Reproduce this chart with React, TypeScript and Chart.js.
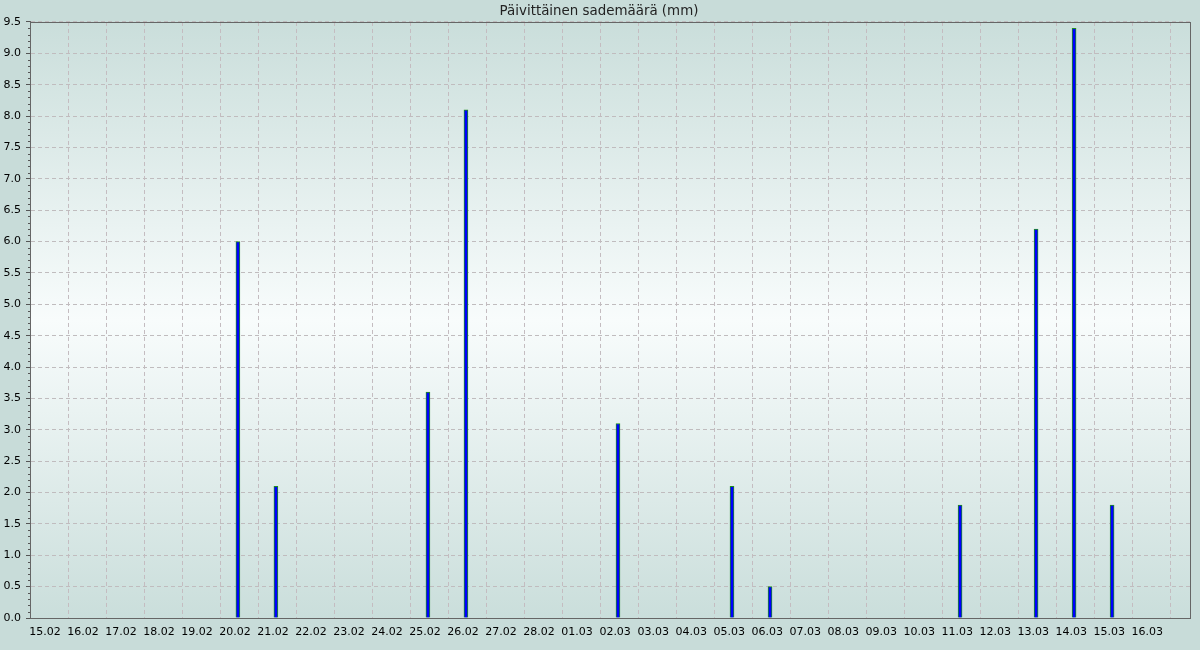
import React, { useEffect, useRef } from 'react';
import { Chart, registerables } from 'chart.js';

Chart.register(...registerables);

const TITLE = 'Päivittäinen sademäärä (mm)';

const dates = [
  '15.02', '16.02', '17.02', '18.02', '19.02', '20.02', '21.02', '22.02', '23.02', '24.02',
  '25.02', '26.02', '27.02', '28.02', '01.03', '02.03', '03.03', '04.03', '05.03', '06.03',
  '07.03', '08.03', '09.03', '10.03', '11.03', '12.03', '13.03', '14.03', '15.03', '16.03',
];

const rain = [
  0, 0, 0, 0, 0, 6.0, 2.1, 0, 0, 0,
  3.6, 8.1, 0, 0, 0, 3.1, 0, 0, 2.1, 0.5,
  0, 0, 0, 0, 1.8, 0, 6.2, 9.4, 1.8, 0,
];

const Y_MAX = 9.5;
const Y_MAJOR = 0.5;
const Y_MINOR = 0.1;
const X_MIN = -0.47;
const X_MAX = 30.05;

const decorPlugin = {
  id: 'decor',
  beforeDraw(chart: any) {
    const { ctx, chartArea: a, width, height } = chart;
    ctx.save();
    ctx.fillStyle = '#c8dcd9';
    ctx.fillRect(0, 0, width, height);
    const g = ctx.createLinearGradient(0, a.top, 0, a.bottom);
    g.addColorStop(0, '#cadedb');
    g.addColorStop(0.5, '#f8fcfc');
    g.addColorStop(1, '#cadedb');
    ctx.fillStyle = g;
    ctx.fillRect(a.left, a.top, a.right - a.left, a.bottom - a.top);
    ctx.restore();
  },
  afterDraw(chart: any) {
    const { ctx, chartArea: a } = chart;
    const y = chart.scales.y;
    ctx.save();
    ctx.strokeStyle = '#555555';
    ctx.lineWidth = 1;
    ctx.beginPath();
    const n = Math.round(Y_MAX / Y_MINOR);
    for (let i = 0; i <= n; i++) {
      if (i % Math.round(Y_MAJOR / Y_MINOR) === 0) continue;
      const py = Math.round(y.getPixelForValue(i * Y_MINOR)) + 0.5;
      ctx.moveTo(a.left - 2, py);
      ctx.lineTo(a.left, py);
    }
    ctx.stroke();
    ctx.strokeStyle = '#666666';
    ctx.strokeRect(Math.round(a.left) + 0.5, Math.round(a.top) + 0.5, Math.round(a.right - a.left), Math.round(a.bottom - a.top));
    ctx.restore();
  },
};

export default function App() {
  const ref = useRef<HTMLCanvasElement>(null);

  useEffect(() => {
    document.body.style.margin = '0';
    Chart.defaults.font.family = "'DejaVu Sans', sans-serif";
    const data = rain
      .map((v, i) => ({ x: i, y: v }))
      .filter((p) => p.y > 0);

    const chart = new Chart(ref.current as HTMLCanvasElement, {
      type: 'bar',
      data: {
        datasets: [
          {
            label: 'Sademäärä',
            data,
            backgroundColor: '#0000ff',
            borderColor: '#1f8f1f',
            borderWidth: 1,
            borderSkipped: 'start',
            barThickness: 4,
            grouped: false,
            xAxisID: 'x',
            yAxisID: 'y',
          } as any,
        ],
      },
      options: {
        responsive: false,
        animation: false,
        layout: { padding: { left: 0, right: 2, top: 0, bottom: 0 } },
        plugins: {
          legend: { display: false },
          tooltip: { enabled: false },
          title: {
            display: true,
            text: TITLE,
            color: '#222222',
            font: { size: 13.4, weight: 'normal' as any },
            padding: { top: 3, bottom: 2.9 },
          },
        },
        scales: {
          x: {
            type: 'linear',
            min: X_MIN,
            max: X_MAX,
            offset: false,
            afterBuildTicks: (scale: any) => {
              const t = [];
              for (let k = 0; k <= dates.length; k++) t.push({ value: X_MIN + k });
              scale.ticks = t;
            },
            afterFit: (scale: any) => {
              scale.height = 32;
            },
            ticks: {
              autoSkip: false,
              maxRotation: 0,
              minRotation: 0,
              labelOffset: -23,
              padding: 8,
              color: '#000000',
              font: { size: 11 },
              callback: (_v: any, i: number) => (i >= 1 ? dates[i - 1] : ''),
            },
            grid: {
              color: '#c4bcc0',
              lineWidth: 1,
              drawTicks: false,
              offset: false,
            },
            border: { display: true, color: '#666666', width: 1, dash: [4, 3] },
          },
          y: {
            type: 'linear',
            min: 0,
            max: Y_MAX,
            afterBuildTicks: (scale: any) => {
              const t = [];
              const n = Math.round(Y_MAX / Y_MAJOR);
              for (let k = 0; k <= n; k++) t.push({ value: k * Y_MAJOR });
              scale.ticks = t;
            },
            afterFit: (scale: any) => {
              scale.width = 30;
            },
            ticks: {
              autoSkip: false,
              padding: 5,
              color: '#000000',
              font: { size: 11 },
              callback: (v: any) => Number(v).toFixed(1),
            },
            grid: {
              color: '#c0bcbe',
              lineWidth: 1,
              tickLength: 4,
              tickColor: '#555555',
              tickBorderDash: [],
            } as any,
            border: { display: true, color: '#666666', width: 1, dash: [4, 3] },
          },
          yRight: {
            type: 'linear',
            position: 'right',
            min: 0,
            max: Y_MAX,
            afterFit: (scale: any) => {
              scale.width = 8;
            },
            ticks: { display: false },
            grid: { display: false, drawTicks: false },
            border: { display: false },
          },
        },
      },
      plugins: [decorPlugin],
    } as any);

    return () => chart.destroy();
  }, []);

  return (
    <div style={{ width: 1200, height: 650 }}>
      <canvas ref={ref} width={1200} height={650} style={{ display: 'block' }} />
    </div>
  );
}
